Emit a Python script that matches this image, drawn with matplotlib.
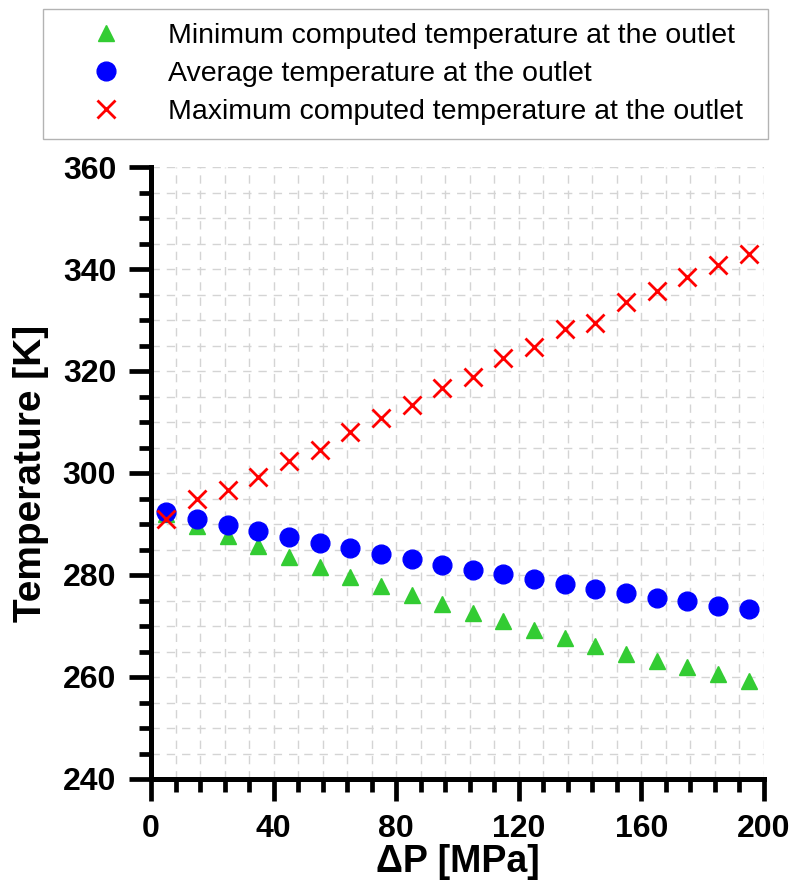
import matplotlib
matplotlib.use('Agg')
import matplotlib.pyplot as plt
from matplotlib.ticker import MultipleLocator

# data
dp = [5, 15, 25, 35, 45, 55, 65, 75, 85, 95, 105, 115, 125, 135, 145, 155, 165, 175, 185, 195]
t_min = [292.0, 289.7, 287.6, 285.7, 283.6, 281.6, 279.7, 277.8, 276.1, 274.3,
         272.6, 271.0, 269.3, 267.7, 266.1, 264.6, 263.1, 261.9, 260.5, 259.2]
t_avg = [292.3, 291.0, 289.8, 288.6, 287.4, 286.3, 285.2, 284.1, 283.1, 282.0,
         281.0, 280.1, 279.2, 278.2, 277.2, 276.4, 275.5, 274.9, 274.0, 273.3]
t_max = [291.0, 294.9, 296.7, 299.2, 302.4, 304.6, 308.0, 310.7, 313.3, 316.7,
         318.9, 322.5, 324.8, 328.2, 329.5, 333.6, 335.7, 338.5, 340.8, 342.9]

labels = ['Minimum computed temperature at the outlet',
          'Average temperature at the outlet',
          'Maximum computed temperature at the outlet']

plt.rcParams['font.family'] = ['Liberation Sans', 'DejaVu Sans']

fig = plt.figure(figsize=(7.91, 8.82), dpi=100)
ax = fig.add_axes([151/791, 1 - 779/882, 613/791, 612/882])

l1, = ax.plot(dp, t_min, ls='none', marker='^', ms=11.5, color='#33cc33', mec='#33cc33')
l2, = ax.plot(dp, t_avg, ls='none', marker='o', ms=13.5, color='#0000ff', mec='#0000ff')
l3, = ax.plot(dp, t_max, ls='none', marker='x', ms=13, mew=2, color='#ff0000')

ax.set_xlim(0, 200)
ax.set_ylim(240, 360)
ax.xaxis.set_major_locator(MultipleLocator(40))
ax.xaxis.set_minor_locator(MultipleLocator(8))
ax.yaxis.set_major_locator(MultipleLocator(20))
ax.yaxis.set_minor_locator(MultipleLocator(5))

# dashed light grid on every tick
ax.grid(True, which='both', color='#d4d4d4', ls=(0, (6, 5)), lw=1.0)
ax.set_axisbelow(True)

for s in ['top', 'right']:
    ax.spines[s].set_visible(False)
for s in ['left', 'bottom']:
    ax.spines[s].set_linewidth(3.6)

ax.tick_params(which='major', direction='out', length=16, width=3.4, pad=9)
ax.tick_params(which='minor', direction='out', length=9, width=3.4)
for lab in ax.get_xticklabels() + ax.get_yticklabels():
    lab.set_fontsize(23)
    lab.set_fontweight('bold')

ax.set_xlabel('ΔP [MPa]', fontsize=27, fontweight='bold', labelpad=0)
ax.set_ylabel('Temperature [K]', fontsize=28, fontweight='bold', labelpad=10)

# legend box spans x 43..768 px, y 9..134 px from the top
leg = fig.legend([l1, l2, l3], labels, loc='upper left',
                 bbox_to_anchor=(43/791, 1 - 134/882, 725/791, 125/882), mode='expand',
                 borderaxespad=0, fontsize=20.5, frameon=True, fancybox=False,
                 handlelength=3.4, handletextpad=0.5, borderpad=0.5,
                 labelspacing=0.41)
leg.get_frame().set_edgecolor('#a0a0a0')
leg.get_frame().set_linewidth(1.0)

fig.savefig('out.png', dpi=100)
